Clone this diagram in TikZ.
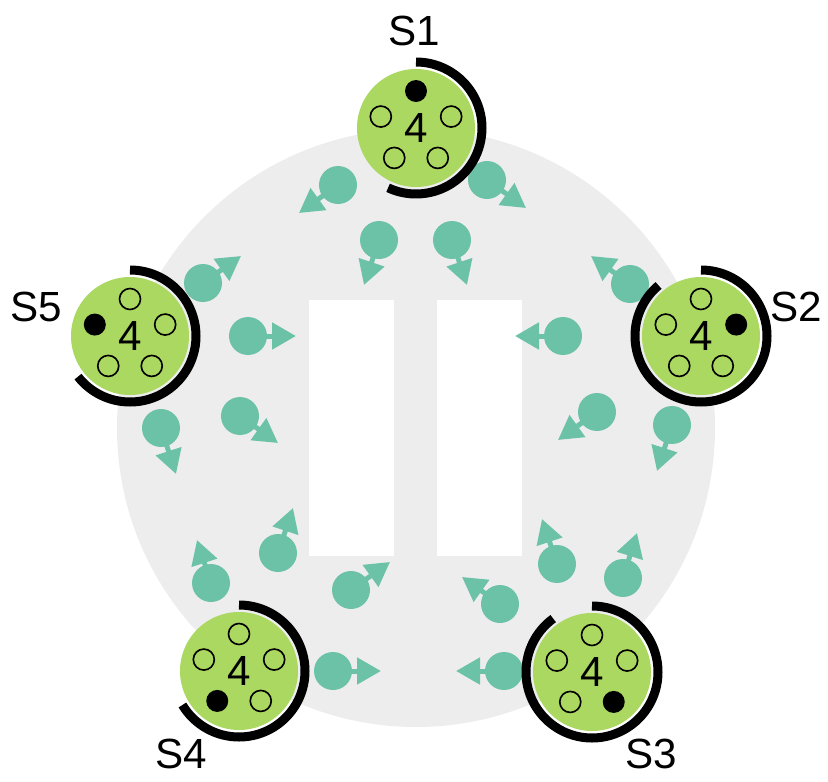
\documentclass[tikz,border=0pt]{standalone}
\usepackage{fontspec}
\setmainfont{Liberation Sans}
\usetikzlibrary{arrows.meta}
\definecolor{srvgreen}{RGB}{170,216,96}
\definecolor{msgteal}{RGB}{108,194,167}
\definecolor{bggray}{RGB}{237,237,237}

\begin{document}
\begin{tikzpicture}[x=0.03cm,y=-0.03cm]
\tikzstyle{server}=[circle,fill=srvgreen,inner sep=0pt,minimum size=3.54cm,font=\fontsize{36}{40}\selectfont]
\tikzstyle{logarc}=[line width=0.27cm,black]
\tikzstyle{hole}=[line width=1.4pt,black]
\tikzstyle{msg}=[circle,fill=msgteal,inner sep=0pt,minimum size=1.14cm]
\tikzstyle{flow}=[line width=0.15cm,msgteal,-{Triangle[length=0.72cm,width=0.78cm]}]
\tikzstyle{lbl}=[font=\fontsize{36}{40}\selectfont]
\useasboundingbox (0,0) rectangle (828,782);
% ring and the two blocks in the middle
\fill[bggray] (416,428) circle (299);
\fill[white] (309,300) rectangle (394,556);
\fill[white] (437,300) rectangle (522,556);
% messages
\foreach \n/\dx/\dy/\tx/\ty in {1/338/185/299/213, 2/487/180/526/208, 3/379/240/364/285,
    4/452/240/467/285, 5/203/283/241/256, 6/630/284/591/256, 7/248/336/296/336,
    8/563/336/515/336, 9/161/428/176/474, 10/240/416/278/443, 11/597/412/558/440,
    12/672/425/657/471, 13/278/553/293/508, 14/211/583/197/540, 15/557/564/542/519,
    16/623/578/637/533, 17/351/590/390/562, 18/500/604/462/577, 19/333/671/381/671,
    20/504/671/456/671}
{
  \node[msg] (m\n) at (\dx,\dy) {};
  \coordinate (t\n) at (\tx,\ty);
  \draw[flow] (m\n.center) -- (t\n);
}
% servers
\foreach \n/\px/\py/\full/\arcend in {1/416/128/0/115, 2/701/336/1/230,
    3/592/672/2/234, 4/239/671/3/149, 5/130/336/4/142}
{
  \node[server] (s\n) at (\px,\py) {4};
  \draw[logarc] (s\n.center) ++(-90:66) arc[start angle=-90,end angle=\arcend,radius=66];
  \foreach \k in {0,...,4}{
    \ifnum\k=\full
      \fill (s\n.center) ++({-90+72*\k}:37) circle (11);
    \else
      \draw[hole] (s\n.center) ++({-90+72*\k}:37) circle (10.5);
    \fi
  }
}
\node[lbl] (l1) at (414,31) {S1};
\node[lbl] (l2) at (796,307) {S2};
\node[lbl] (l3) at (651,754) {S3};
\node[lbl] (l4) at (181,754) {S4};
\node[lbl] (l5) at (36,307) {S5};
\end{tikzpicture}
\end{document}
